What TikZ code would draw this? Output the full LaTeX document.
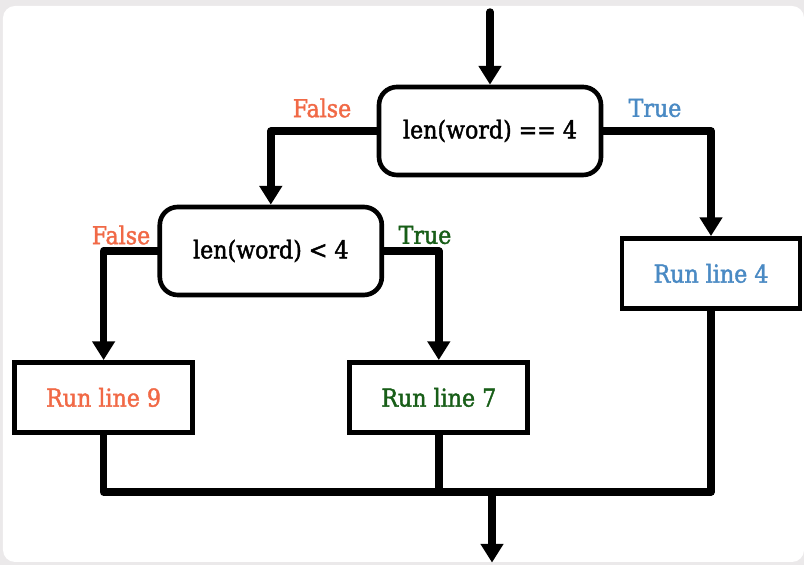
\documentclass[tikz,border=0pt]{standalone}
\usepackage{fontspec}
\setmainfont{DejaVu Serif Condensed}[FakeBold=1.6]
\usetikzlibrary{arrows.meta, positioning}
\definecolor{panel}{RGB}{235,233,234}
\definecolor{nobranch}{RGB}{241,105,70}
\definecolor{yesouter}{RGB}{74,138,196}
\definecolor{yesinner}{RGB}{24,94,24}

\begin{document}
\begin{tikzpicture}[
    test/.style={rectangle, rounded corners=0.45cm, draw, line width=3.3pt, fill=white, minimum width=5.55cm, minimum height=2.2cm, font=\fontsize{17.5}{20}\selectfont},
    action/.style={rectangle, draw, line width=3.3pt, fill=white, minimum width=4.45cm, minimum height=1.75cm, font=\fontsize{17.5}{20}\selectfont, text=#1},
    branch/.style={font=\fontsize{17.5}{20}\selectfont, text=#1},
    flow/.style={-{Triangle[width=0.55cm, length=0.47cm]}, line width=5.3pt, line cap=round, line join=round},
    wire/.style={line width=5.3pt, line join=round}
  ]

  % Panel
  \useasboundingbox (0,0) rectangle (20.1,14.125);
  \fill[panel] (0,0) rectangle (20.1,14.125);
  \fill[white, rounded corners=0.3cm] (0.075,0.075) rectangle (20.1,13.975);

  % Tests and actions
  \node[test] (len4) at (12.25, 10.85) {len(word) == 4};
  \node[test] (lt4) at (6.77, 7.85) {len(word) < 4};
  \node[action=yesouter] (run4) at (17.775, 7.29) {Run line 4};
  \node[action=nobranch] (run9) at (2.59, 4.19) {Run line 9};
  \node[action=yesinner] (run7) at (10.97, 4.19) {Run line 7};

  \coordinate (entry) at (12.25, 13.825);
  \coordinate (merge) at (12.3, 1.825);
  \coordinate (exit) at (12.3, 0.06);

  % Branches
  \draw[flow] (entry) -- (len4.north);
  \draw[flow] (len4.west) -| (lt4.north);
  \draw[flow] (len4.east) -| (run4.north);
  \draw[flow] (lt4.west) -| (run9.north);
  \draw[flow] (lt4.east) -| (run7.north);

  % Join back together
  \draw[wire] (run9.south) -- (run9.south |- merge) -- (run4.south |- merge) -- (run4.south);
  \draw[wire] (run7.south) -- (run7.south |- merge);
  \draw[flow, line cap=butt] (merge) -- (exit);

  % Branch labels
  \node[branch=nobranch] (no1) at (8.05, 11.425) {False};
  \node[branch=yesouter] (yes1) at (16.375, 11.425) {True};
  \node[branch=nobranch] (no2) at (3.025, 8.25) {False};
  \node[branch=yesinner] (yes2) at (10.625, 8.25) {True};

\end{tikzpicture}
\end{document}
